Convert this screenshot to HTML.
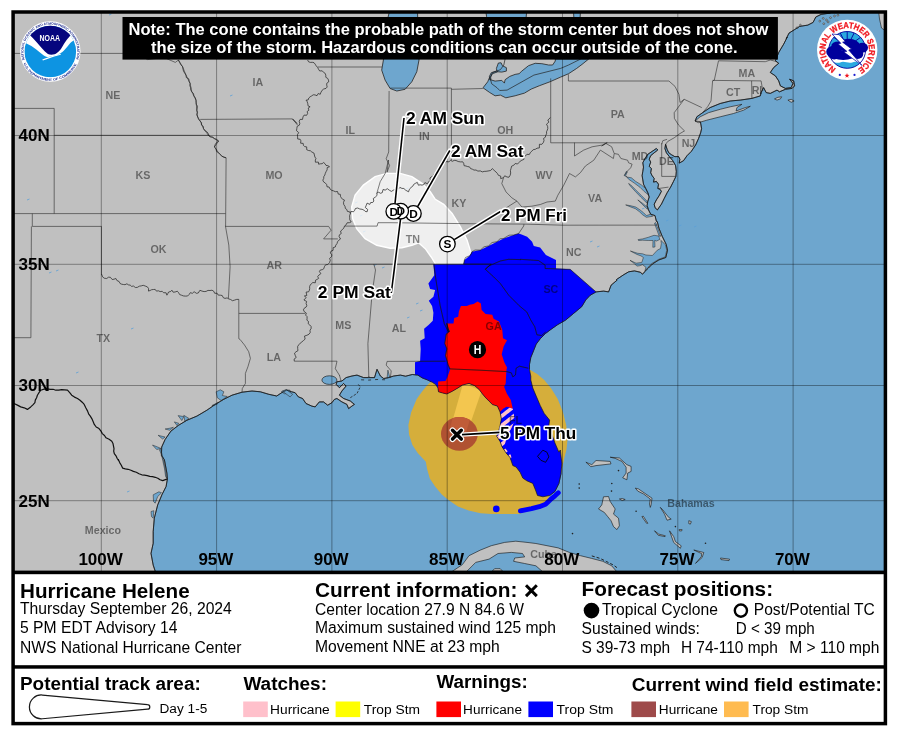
<!DOCTYPE html><html><head><meta charset="utf-8"><title>Hurricane Helene</title>
<style>html,body{margin:0;padding:0;background:#fff}body{width:897px;height:736px;overflow:hidden;font-family:"Liberation Sans",sans-serif}svg{display:block}text{font-family:"Liberation Sans",sans-serif}</style></head><body>
<svg width="897" height="736" viewBox="0 0 897 736">
<rect width="897" height="736" fill="#fff"/>
<filter id="nf" x="0" y="0" width="897" height="736" filterUnits="userSpaceOnUse" color-interpolation-filters="sRGB"><feOffset dx="0" dy="0"/></filter>
<defs>
<clipPath id="mapclip"><rect x="13" y="12" width="872" height="560"/></clipPath>
<clipPath id="landclip"><path d="M155.2 571.1 L153.2 565.1 L151.0 553.4 L153.2 543.3 L153.2 531.6 L154.3 518.2 L157.7 504.9 L161.9 494.8 L166.1 486.5 L167.4 478.9 L166.9 473.1 L164.4 459.7 L161.4 455.4 L161.7 447.0 L165.1 439.5 L170.9 431.1 L178.5 425.3 L186.8 420.3 L196.9 416.1 L206.9 410.2 L215.3 404.4 L223.6 399.4 L232.0 395.2 L242.0 392.2 L252.0 391.0 L260.4 391.8 L268.8 394.3 L276.7 396.0 L281.7 392.7 L286.7 390.2 L291.7 391.8 L295.1 392.7 L298.4 396.9 L302.6 398.5 L306.0 403.5 L311.8 406.1 L315.2 406.9 L319.3 401.9 L323.5 401.9 L327.7 405.2 L331.9 402.7 L334.4 399.4 L336.9 398.5 L341.9 401.9 L346.9 404.4 L348.6 408.6 L351.9 406.1 L354.4 404.4 L350.3 401.0 L343.6 398.5 L339.4 395.2 L341.9 391.0 L346.1 386.0 L343.6 383.5 L339.4 387.7 L336.1 384.3 L336.9 381.8 L341.9 381.0 L346.1 377.6 L351.9 376.0 L357.0 375.1 L363.6 377.6 L368.7 377.6 L374.5 377.6 L377.0 369.3 L380.4 376.0 L383.7 378.5 L388.7 377.6 L393.7 376.0 L400.4 375.1 L405.6 376.2 L412.3 374.5 L417.8 375.1 L422.3 377.9 L427.9 380.1 L432.3 382.3 L435.7 384.6 L437.9 387.9 L438.5 391.8 L442.4 392.9 L446.8 394.0 L452.4 391.2 L458.0 387.9 L462.4 385.1 L469.1 383.4 L474.7 385.7 L479.2 389.6 L482.5 394.0 L485.8 397.9 L489.2 401.3 L492.5 404.6 L497.4 406.1 L500.1 412.1 L501.4 418.8 L500.1 425.5 L498.7 430.8 L496.7 436.2 L500.1 441.5 L502.1 446.9 L506.1 452.9 L510.1 457.6 L512.8 465.6 L516.1 467.0 L520.1 472.3 L522.8 478.1 L526.8 480.8 L532.8 483.4 L535.5 490.1 L537.5 495.5 L542.9 496.8 L549.6 495.5 L554.9 491.5 L558.9 483.4 L560.9 474.1 L561.9 463.4 L560.3 450.0 L558.9 452.2 L554.9 442.9 L551.6 433.5 L548.9 425.5 L549.6 420.1 L544.2 413.4 L540.2 405.4 L536.2 396.1 L532.8 388.0 L530.8 380.0 L530.8 376.3 L529.5 369.6 L529.5 364.2 L530.8 357.5 L533.5 350.8 L536.2 344.1 L540.2 338.8 L545.6 333.4 L550.9 329.4 L557.6 324.7 L565.6 320.1 L573.6 313.4 L581.7 306.7 L585.7 300.0 L590.2 295.2 L596.1 291.9 L603.6 291.1 L608.6 291.9 L611.1 285.2 L617.0 280.2 L616.5 279.5 L623.9 274.6 L628.7 271.8 L634.4 270.9 L640.2 272.2 L642.6 274.2 L644.2 272.2 L648.3 268.1 L652.4 264.0 L658.9 259.9 L665.8 257.5 L667.5 250.2 L666.2 244.4 L662.2 236.3 L658.9 228.1 L657.3 221.6 L656.4 221.3 L655.0 215.6 L650.7 214.2 L648.5 209.9 L647.1 205.6 L647.8 201.3 L649.2 197.0 L647.8 192.8 L645.7 188.5 L643.5 184.2 L642.8 179.9 L642.1 175.6 L642.8 171.4 L643.5 167.1 L642.8 162.8 L645.0 158.5 L647.8 154.3 L652.1 151.4 L656.4 148.5 L657.8 150.0 L654.2 152.8 L650.7 155.7 L649.2 159.2 L650.7 162.1 L649.2 166.4 L651.4 168.5 L650.7 172.8 L652.1 175.6 L654.2 178.5 L653.5 182.1 L656.4 181.4 L658.5 184.2 L657.8 188.5 L659.9 189.2 L661.4 191.3 L659.2 195.6 L656.4 199.9 L654.2 204.2 L655.0 207.7 L657.4 209.9 L661.4 204.2 L664.2 198.5 L667.1 192.8 L670.6 187.1 L673.5 181.4 L675.9 176.4 L676.3 171.4 L675.6 165.7 L672.8 160.7 L669.2 156.4 L666.4 152.8 L664.9 148.5 L665.6 144.3 L667.1 149.3 L668.8 152.8 L671.6 154.8 L674.9 156.7 L678.5 156.5 L679.9 159.2 L679.2 163.1 L683.5 160.7 L687.0 155.7 L691.3 151.4 L695.6 145.0 L698.5 138.6 L700.6 132.9 L701.6 128.6 L700.4 121.7 L695.1 121.0 L696.8 116.8 L702.6 112.7 L710.1 107.6 L720.2 103.5 L730.2 101.0 L740.2 100.1 L751.9 98.4 L760.3 95.9 L761.1 92.6 L763.6 87.6 L766.2 92.6 L770.3 93.4 L777.0 90.1 L779.5 91.8 L785.4 89.3 L792.1 88.4 L794.6 85.9 L793.7 80.9 L789.6 79.2 L792.9 83.4 L791.2 87.6 L785.4 88.4 L780.4 85.9 L778.7 80.9 L775.4 75.9 L770.3 72.5 L773.7 67.5 L778.7 63.3 L775.4 60.8 L778.7 52.5 L783.7 44.1 L787.1 37.4 L786.4 38.4 L789.0 33.1 L794.4 29.7 L799.7 26.4 L807.8 25.1 L813.1 22.4 L815.8 17.0 L821.1 14.4 L830.5 13.0 L830.5 10.4 L12.0 8.0 L12.0 575.0 L155.2 575.0Z M695.1 121.0 L700.1 116.8 L708.5 112.7 L720.2 109.3 L730.2 106.8 L738.6 105.1 L741.9 104.3 L736.9 107.6 L736.1 111.0 L745.3 107.6 L750.3 106.3 L743.6 110.2 L733.5 113.5 L720.2 116.8 L706.8 120.2 L698.4 122.7Z M774.5 98.9 L777.9 97.3 L781.7 96.8 L780.4 98.9 L777.0 100.1Z M787.9 100.1 L791.2 99.3 L794.1 101.0 L791.2 102.3Z M878.5 10.0 L890.0 10.0 L890.0 34.0 L881.5 28.0 L879.5 19.0Z M448.9 573.6 L462.3 564.7 L469.0 555.7 L480.1 550.2 L491.3 545.7 L504.7 542.4 L515.8 541.2 L527.0 542.4 L535.9 543.5 L547.0 545.7 L558.2 547.9 L569.3 552.4 L580.5 555.7 L591.6 558.4 L602.8 561.3 L611.7 565.8 L618.4 573.6 L544.8 573.6 L535.9 565.8 L524.7 563.5 L513.6 561.3 L514.7 558.0 L524.7 556.9 L522.5 553.5 L511.3 552.4 L498.0 553.5 L489.1 559.1 L475.7 562.4 L471.2 566.9 L464.5 573.6Z M492.4 570.9 L494.6 568.7 L500.2 568.7 L502.4 570.9Z M585.9 462.2 L591.8 464.7 L596.0 460.5 L610.2 461.4 L611.0 463.9 L596.0 465.6 L590.9 466.7Z M610.2 457.2 L619.4 458.0 L626.9 464.7 L631.1 466.4 L631.1 471.4 L627.7 473.1 L626.9 479.8 L622.7 477.8 L626.1 473.1 L626.1 467.2 L621.9 461.4 L615.2 458.4Z M603.5 496.8 L608.5 496.5 L610.2 501.5 L615.2 509.0 L613.5 514.1 L618.5 518.2 L619.4 525.8 L616.9 529.6 L613.5 526.6 L611.0 520.7 L607.7 516.6 L604.3 512.4 L598.5 509.0 L601.8 504.9Z M635.3 488.1 L638.6 489.0 L647.0 494.8 L652.0 498.2 L651.1 504.9 L650.3 507.4 L649.5 504.0 L650.3 499.0 L643.6 494.0 L637.8 491.1Z M660.3 507.4 L662.8 509.9 L668.7 517.4 L671.2 519.1 L667.0 520.2 L664.5 514.1Z M669.5 530.8 L673.7 536.6 L675.4 541.6 L681.2 545.8 L680.4 548.3 L673.7 542.5Z M654.5 530.8 L658.7 534.1 L665.4 535.8 L665.0 536.6 L658.3 535.3Z M619.4 499.0 L622.2 498.5 L625.2 499.5 L622.2 500.5Z M693.8 550.0 L703.8 552.5 L702.1 557.5 L695.5 563.4 L701.3 556.7 L701.8 553.7Z M688.8 520.7 L691.3 521.6 L690.4 524.1 L688.8 523.6Z M679.1 529.6 L682.1 529.6 L681.7 530.9 L679.4 530.9Z M641.9 516.6 L643.3 516.2 L647.8 523.3 L646.6 523.3Z M720.5 558.0 L729.6 559.2 L729.0 560.6 L721.0 559.6Z"/></clipPath>
<clipPath id="warnclip"><path d="M415.0 380.0 L415.0 362.2 L420.1 360.9 L420.7 348.9 L420.1 340.8 L424.7 338.2 L424.1 328.8 L428.8 324.8 L432.8 320.8 L433.4 312.7 L432.1 306.1 L428.8 300.7 L433.4 296.7 L435.1 290.0 L430.1 289.0 L428.4 283.5 L434.3 275.2 L433.4 264.3 L463.5 264.3 L464.4 260.1 L469.4 255.9 L471.9 251.8 L480.3 250.1 L488.6 245.9 L497.0 241.7 L503.7 238.4 L513.7 235.0 L518.7 233.4 L527.1 236.7 L532.1 241.7 L533.8 245.9 L540.1 247.6 L545.9 255.1 L556.0 260.1 L556.0 268.5 L570.2 269.3 L596.1 291.9 L604.0 294.0 L580.0 335.0 L552.0 365.0 L552.0 400.0 L578.0 440.0 L578.0 480.0 L566.0 500.0 L540.0 506.0 L516.0 490.0 L498.0 470.0 L488.0 440.0 L488.0 415.0 L470.0 405.0 L440.0 402.0 L415.0 388.0Z M477.6 301.4 L480.9 303.4 L481.6 310.1 L485.6 314.1 L492.3 314.7 L493.6 318.8 L499.0 321.4 L502.3 330.1 L503.0 338.2 L507.0 340.2 L503.7 346.2 L501.7 354.2 L504.3 362.2 L507.0 367.6 L506.4 370.3 L505.7 383.6 L504.1 386.7 L506.8 393.4 L510.8 400.1 L512.8 408.8 L506.8 406.8 L503.4 408.8 L500.1 412.1 L494.0 417.0 L478.0 404.0 L463.0 394.0 L450.0 402.0 L440.0 400.0 L434.0 392.0 L438.1 388.1 L438.1 381.6 L445.5 381.0 L447.5 377.0 L450.2 368.9 L448.2 364.9 L445.5 355.6 L446.8 348.9 L444.8 343.5 L446.2 334.1 L449.5 331.5 L448.2 328.8 L446.8 323.4 L453.5 323.4 L454.2 318.1 L458.2 316.8 L458.9 311.4 L460.9 306.1 L466.9 306.1 L469.6 304.7 L473.6 304.0Z"/></clipPath>
<pattern id="hat" width="7.4" height="7.4" patternUnits="userSpaceOnUse" patternTransform="rotate(-38) translate(0 5.9)"><rect width="7.4" height="7.4" fill="#0000ff"/><rect width="7.4" height="3.7" fill="#ffc0cb"/></pattern>
</defs>
<g filter="url(#nf)">
<g clip-path="url(#mapclip)">
<rect x="10" y="10" width="880" height="565" fill="#6ea6ce"/>
<path d="M155.2 571.1 L153.2 565.1 L151.0 553.4 L153.2 543.3 L153.2 531.6 L154.3 518.2 L157.7 504.9 L161.9 494.8 L166.1 486.5 L167.4 478.9 L166.9 473.1 L164.4 459.7 L161.4 455.4 L161.7 447.0 L165.1 439.5 L170.9 431.1 L178.5 425.3 L186.8 420.3 L196.9 416.1 L206.9 410.2 L215.3 404.4 L223.6 399.4 L232.0 395.2 L242.0 392.2 L252.0 391.0 L260.4 391.8 L268.8 394.3 L276.7 396.0 L281.7 392.7 L286.7 390.2 L291.7 391.8 L295.1 392.7 L298.4 396.9 L302.6 398.5 L306.0 403.5 L311.8 406.1 L315.2 406.9 L319.3 401.9 L323.5 401.9 L327.7 405.2 L331.9 402.7 L334.4 399.4 L336.9 398.5 L341.9 401.9 L346.9 404.4 L348.6 408.6 L351.9 406.1 L354.4 404.4 L350.3 401.0 L343.6 398.5 L339.4 395.2 L341.9 391.0 L346.1 386.0 L343.6 383.5 L339.4 387.7 L336.1 384.3 L336.9 381.8 L341.9 381.0 L346.1 377.6 L351.9 376.0 L357.0 375.1 L363.6 377.6 L368.7 377.6 L374.5 377.6 L377.0 369.3 L380.4 376.0 L383.7 378.5 L388.7 377.6 L393.7 376.0 L400.4 375.1 L405.6 376.2 L412.3 374.5 L417.8 375.1 L422.3 377.9 L427.9 380.1 L432.3 382.3 L435.7 384.6 L437.9 387.9 L438.5 391.8 L442.4 392.9 L446.8 394.0 L452.4 391.2 L458.0 387.9 L462.4 385.1 L469.1 383.4 L474.7 385.7 L479.2 389.6 L482.5 394.0 L485.8 397.9 L489.2 401.3 L492.5 404.6 L497.4 406.1 L500.1 412.1 L501.4 418.8 L500.1 425.5 L498.7 430.8 L496.7 436.2 L500.1 441.5 L502.1 446.9 L506.1 452.9 L510.1 457.6 L512.8 465.6 L516.1 467.0 L520.1 472.3 L522.8 478.1 L526.8 480.8 L532.8 483.4 L535.5 490.1 L537.5 495.5 L542.9 496.8 L549.6 495.5 L554.9 491.5 L558.9 483.4 L560.9 474.1 L561.9 463.4 L560.3 450.0 L558.9 452.2 L554.9 442.9 L551.6 433.5 L548.9 425.5 L549.6 420.1 L544.2 413.4 L540.2 405.4 L536.2 396.1 L532.8 388.0 L530.8 380.0 L530.8 376.3 L529.5 369.6 L529.5 364.2 L530.8 357.5 L533.5 350.8 L536.2 344.1 L540.2 338.8 L545.6 333.4 L550.9 329.4 L557.6 324.7 L565.6 320.1 L573.6 313.4 L581.7 306.7 L585.7 300.0 L590.2 295.2 L596.1 291.9 L603.6 291.1 L608.6 291.9 L611.1 285.2 L617.0 280.2 L616.5 279.5 L623.9 274.6 L628.7 271.8 L634.4 270.9 L640.2 272.2 L642.6 274.2 L644.2 272.2 L648.3 268.1 L652.4 264.0 L658.9 259.9 L665.8 257.5 L667.5 250.2 L666.2 244.4 L662.2 236.3 L658.9 228.1 L657.3 221.6 L656.4 221.3 L655.0 215.6 L650.7 214.2 L648.5 209.9 L647.1 205.6 L647.8 201.3 L649.2 197.0 L647.8 192.8 L645.7 188.5 L643.5 184.2 L642.8 179.9 L642.1 175.6 L642.8 171.4 L643.5 167.1 L642.8 162.8 L645.0 158.5 L647.8 154.3 L652.1 151.4 L656.4 148.5 L657.8 150.0 L654.2 152.8 L650.7 155.7 L649.2 159.2 L650.7 162.1 L649.2 166.4 L651.4 168.5 L650.7 172.8 L652.1 175.6 L654.2 178.5 L653.5 182.1 L656.4 181.4 L658.5 184.2 L657.8 188.5 L659.9 189.2 L661.4 191.3 L659.2 195.6 L656.4 199.9 L654.2 204.2 L655.0 207.7 L657.4 209.9 L661.4 204.2 L664.2 198.5 L667.1 192.8 L670.6 187.1 L673.5 181.4 L675.9 176.4 L676.3 171.4 L675.6 165.7 L672.8 160.7 L669.2 156.4 L666.4 152.8 L664.9 148.5 L665.6 144.3 L667.1 149.3 L668.8 152.8 L671.6 154.8 L674.9 156.7 L678.5 156.5 L679.9 159.2 L679.2 163.1 L683.5 160.7 L687.0 155.7 L691.3 151.4 L695.6 145.0 L698.5 138.6 L700.6 132.9 L701.6 128.6 L700.4 121.7 L695.1 121.0 L696.8 116.8 L702.6 112.7 L710.1 107.6 L720.2 103.5 L730.2 101.0 L740.2 100.1 L751.9 98.4 L760.3 95.9 L761.1 92.6 L763.6 87.6 L766.2 92.6 L770.3 93.4 L777.0 90.1 L779.5 91.8 L785.4 89.3 L792.1 88.4 L794.6 85.9 L793.7 80.9 L789.6 79.2 L792.9 83.4 L791.2 87.6 L785.4 88.4 L780.4 85.9 L778.7 80.9 L775.4 75.9 L770.3 72.5 L773.7 67.5 L778.7 63.3 L775.4 60.8 L778.7 52.5 L783.7 44.1 L787.1 37.4 L786.4 38.4 L789.0 33.1 L794.4 29.7 L799.7 26.4 L807.8 25.1 L813.1 22.4 L815.8 17.0 L821.1 14.4 L830.5 13.0 L830.5 10.4 L12.0 8.0 L12.0 575.0 L155.2 575.0Z" fill="#c0c0c0" stroke="#111" stroke-width="0.6" stroke-linejoin="round"/>
<path d="M695.1 121.0 L700.1 116.8 L708.5 112.7 L720.2 109.3 L730.2 106.8 L738.6 105.1 L741.9 104.3 L736.9 107.6 L736.1 111.0 L745.3 107.6 L750.3 106.3 L743.6 110.2 L733.5 113.5 L720.2 116.8 L706.8 120.2 L698.4 122.7Z" fill="#c0c0c0" stroke="#111" stroke-width="0.6" stroke-linejoin="round"/>
<path d="M774.5 98.9 L777.9 97.3 L781.7 96.8 L780.4 98.9 L777.0 100.1Z" fill="#c0c0c0" stroke="#111" stroke-width="0.6" stroke-linejoin="round"/>
<path d="M787.9 100.1 L791.2 99.3 L794.1 101.0 L791.2 102.3Z" fill="#c0c0c0" stroke="#111" stroke-width="0.6" stroke-linejoin="round"/>
<path d="M878.5 10.0 L890.0 10.0 L890.0 34.0 L881.5 28.0 L879.5 19.0Z" fill="#c0c0c0" stroke="#111" stroke-width="0.6" stroke-linejoin="round"/>
<path d="M448.9 573.6 L462.3 564.7 L469.0 555.7 L480.1 550.2 L491.3 545.7 L504.7 542.4 L515.8 541.2 L527.0 542.4 L535.9 543.5 L547.0 545.7 L558.2 547.9 L569.3 552.4 L580.5 555.7 L591.6 558.4 L602.8 561.3 L611.7 565.8 L618.4 573.6 L544.8 573.6 L535.9 565.8 L524.7 563.5 L513.6 561.3 L514.7 558.0 L524.7 556.9 L522.5 553.5 L511.3 552.4 L498.0 553.5 L489.1 559.1 L475.7 562.4 L471.2 566.9 L464.5 573.6Z" fill="#c0c0c0" stroke="#111" stroke-width="0.6" stroke-linejoin="round"/>
<path d="M492.4 570.9 L494.6 568.7 L500.2 568.7 L502.4 570.9Z" fill="#c0c0c0" stroke="#111" stroke-width="0.6" stroke-linejoin="round"/>
<path d="M585.9 462.2 L591.8 464.7 L596.0 460.5 L610.2 461.4 L611.0 463.9 L596.0 465.6 L590.9 466.7Z" fill="#c0c0c0" stroke="#111" stroke-width="0.6" stroke-linejoin="round"/>
<path d="M610.2 457.2 L619.4 458.0 L626.9 464.7 L631.1 466.4 L631.1 471.4 L627.7 473.1 L626.9 479.8 L622.7 477.8 L626.1 473.1 L626.1 467.2 L621.9 461.4 L615.2 458.4Z" fill="#c0c0c0" stroke="#111" stroke-width="0.6" stroke-linejoin="round"/>
<path d="M603.5 496.8 L608.5 496.5 L610.2 501.5 L615.2 509.0 L613.5 514.1 L618.5 518.2 L619.4 525.8 L616.9 529.6 L613.5 526.6 L611.0 520.7 L607.7 516.6 L604.3 512.4 L598.5 509.0 L601.8 504.9Z" fill="#c0c0c0" stroke="#111" stroke-width="0.6" stroke-linejoin="round"/>
<path d="M635.3 488.1 L638.6 489.0 L647.0 494.8 L652.0 498.2 L651.1 504.9 L650.3 507.4 L649.5 504.0 L650.3 499.0 L643.6 494.0 L637.8 491.1Z" fill="#c0c0c0" stroke="#111" stroke-width="0.6" stroke-linejoin="round"/>
<path d="M660.3 507.4 L662.8 509.9 L668.7 517.4 L671.2 519.1 L667.0 520.2 L664.5 514.1Z" fill="#c0c0c0" stroke="#111" stroke-width="0.6" stroke-linejoin="round"/>
<path d="M669.5 530.8 L673.7 536.6 L675.4 541.6 L681.2 545.8 L680.4 548.3 L673.7 542.5Z" fill="#c0c0c0" stroke="#111" stroke-width="0.6" stroke-linejoin="round"/>
<path d="M654.5 530.8 L658.7 534.1 L665.4 535.8 L665.0 536.6 L658.3 535.3Z" fill="#c0c0c0" stroke="#111" stroke-width="0.6" stroke-linejoin="round"/>
<path d="M619.4 499.0 L622.2 498.5 L625.2 499.5 L622.2 500.5Z" fill="#c0c0c0" stroke="#111" stroke-width="0.6" stroke-linejoin="round"/>
<path d="M693.8 550.0 L703.8 552.5 L702.1 557.5 L695.5 563.4 L701.3 556.7 L701.8 553.7Z" fill="#c0c0c0" stroke="#111" stroke-width="0.6" stroke-linejoin="round"/>
<path d="M688.8 520.7 L691.3 521.6 L690.4 524.1 L688.8 523.6Z" fill="#c0c0c0" stroke="#111" stroke-width="0.6" stroke-linejoin="round"/>
<path d="M679.1 529.6 L682.1 529.6 L681.7 530.9 L679.4 530.9Z" fill="#c0c0c0" stroke="#111" stroke-width="0.6" stroke-linejoin="round"/>
<path d="M641.9 516.6 L643.3 516.2 L647.8 523.3 L646.6 523.3Z" fill="#c0c0c0" stroke="#111" stroke-width="0.6" stroke-linejoin="round"/>
<path d="M720.5 558.0 L729.6 559.2 L729.0 560.6 L721.0 559.6Z" fill="#c0c0c0" stroke="#111" stroke-width="0.6" stroke-linejoin="round"/>
<circle cx="579.2" cy="484.0" r="0.8" fill="#222"/>
<circle cx="579.2" cy="488.1" r="0.8" fill="#222"/>
<circle cx="611.8" cy="483.5" r="0.8" fill="#222"/>
<circle cx="611.5" cy="491.1" r="0.8" fill="#222"/>
<circle cx="618.5" cy="470.6" r="0.8" fill="#222"/>
<circle cx="636.1" cy="511.2" r="0.8" fill="#222"/>
<circle cx="572.5" cy="533.6" r="0.8" fill="#222"/>
<circle cx="675.4" cy="526.6" r="0.8" fill="#222"/>
<circle cx="705.5" cy="543.3" r="0.8" fill="#222"/>
<path d="M591.8 555.9 L600.1 558.4 L606.8 561.7 L613.5 565.1 L616.9 567.6" fill="none" stroke="#222" stroke-width="1" stroke-dasharray="3 2"/>
<circle cx="819.8" cy="21.1" r="0.9" fill="#c0c0c0" stroke="#222" stroke-width="0.5"/>
<circle cx="823.2" cy="18.4" r="0.9" fill="#c0c0c0" stroke="#222" stroke-width="0.5"/>
<circle cx="826.5" cy="20.0" r="0.9" fill="#c0c0c0" stroke="#222" stroke-width="0.5"/>
<circle cx="830.5" cy="17.7" r="0.9" fill="#c0c0c0" stroke="#222" stroke-width="0.5"/>
<circle cx="834.5" cy="16.0" r="0.9" fill="#c0c0c0" stroke="#222" stroke-width="0.5"/>
<circle cx="837.9" cy="15.2" r="0.9" fill="#c0c0c0" stroke="#222" stroke-width="0.5"/>
<circle cx="823.8" cy="23.7" r="0.9" fill="#c0c0c0" stroke="#222" stroke-width="0.5"/>
<circle cx="828.1" cy="21.9" r="0.9" fill="#c0c0c0" stroke="#222" stroke-width="0.5"/>
<circle cx="797.1" cy="27.7" r="0.9" fill="#c0c0c0" stroke="#222" stroke-width="0.5"/>
<circle cx="800.4" cy="25.1" r="0.9" fill="#c0c0c0" stroke="#222" stroke-width="0.5"/>
<path d="M127.0 492.0l2.5 -1 M131.0 329.0l2.5 -1 M76.0 373.0l2.5 -1 M374.0 265.5l2.5 -1 M382.0 268.0l2.5 -1 M49.0 273.0l2.5 -1 M56.0 271.0l2.5 -1 M642.0 209.0l2.5 -1 M666.0 221.0l2.5 -1 M679.0 226.0l2.5 -1 M694.0 227.0l2.5 -1 M590.0 242.0l2.5 -1 M597.0 247.0l2.5 -1 M355.0 203.0l2.5 -1 M360.0 216.0l2.5 -1 M363.0 232.0l2.5 -1 M406.0 189.0l2.5 -1 M520.0 251.0l2.5 -1 M416.0 304.0l2.5 -1 M420.0 311.0l2.5 -1 M407.0 318.0l2.5 -1 M230.0 96.0l2.5 -1 M109.0 15.0l2.5 -1 M27.0 200.0l2.5 -1" fill="none" stroke="#5aa0d8" stroke-width="0.8"/>
<path d="M383.4 60.0 L381.7 70.1 L385.1 80.1 L390.1 88.5 L396.8 91.0 L405.1 89.3 L411.8 81.8 L416.8 71.7 L419.0 60.0 L417.4 8.2 L390.2 8.2 L385.0 30.0Z" fill="#6ea6ce" stroke="#222" stroke-width="0.8"/>
<path d="M483.0 87.8 L489.7 92.5 L495.1 95.8 L500.4 95.1 L505.8 97.8 L515.1 95.8 L524.5 93.1 L531.2 89.1 L539.2 85.8 L549.9 81.8 L560.6 77.1 L568.6 73.7 L576.7 68.4 L582.0 64.4 L588.7 59.0 L555.3 59.0 L555.3 61.0 L552.6 65.0 L548.6 65.0 L541.9 63.7 L535.2 63.3 L528.5 65.7 L521.8 71.1 L519.1 73.7 L515.1 74.4 L509.8 76.4 L505.1 79.7 L504.4 83.1 L501.8 80.4 L495.1 81.1 L490.4 79.7 L490.0 76.4 L487.7 81.8Z" fill="#6ea6ce" stroke="#222" stroke-width="0.8"/>
<path d="M496.4 68.4 L498.4 63.0 L501.1 62.8 L502.4 65.7 L506.4 67.7 L506.4 71.1 L501.8 72.1 L497.1 71.7Z" fill="#6ea6ce" stroke="#222" stroke-width="0.8"/>
<path d="M497.1 70.8 L497.5 71.9 L492.4 73.7 L490.7 77.1 L490.9 79.9 L489.6 79.6 L489.4 76.4 L491.3 72.7Z" fill="#6ea6ce" stroke="#222" stroke-width="0.8"/>
<path d="M485.4 8.2 L486.6 16.7 L507.4 53.4 L523.5 45.0 L527.0 8.2Z" fill="#6ea6ce" stroke="#222" stroke-width="0.8"/>
<path d="M573.4 10.0 L580.5 10.0 L580.0 20.0 L574.0 20.0Z" fill="#6ea6ce" stroke="#222" stroke-width="0.8"/>
<path d="M567.3 45.0 L583.5 46.4 L620.4 46.4 L650.3 38.0 L648.0 22.4 L631.9 28.1 L608.8 26.7 L578.8 35.2Z" fill="#6ea6ce" stroke="#222" stroke-width="0.8"/>
<path d="M638.1 239.6 L642.6 238.9 L648.3 237.3 L654.0 235.3 L658.7 236.0 L659.9 239.4 L656.6 241.0 L654.7 240.4 L655.0 246.9 L652.8 247.3 L653.0 240.5 L648.3 240.5 L642.6 240.2 L638.5 240.5Z" fill="#6ea6ce" stroke="#222" stroke-width="0.5"/>
<path d="M660.9 240.4 L665.6 244.9 L666.7 250.2 L665.3 256.8 L658.7 259.3 L652.0 263.4 L647.9 267.4 L644.9 271.2 L645.9 267.3 L642.6 264.7 L639.3 265.8 L636.9 266.1 L634.4 263.6 L630.0 260.3 L636.1 263.2 L641.8 262.4 L643.4 257.5 L641.0 255.9 L636.9 254.4 L630.4 251.0 L637.7 253.3 L642.6 253.8 L645.9 255.0 L652.4 255.5 L657.3 250.2 L660.5 248.5 L661.3 243.6Z" fill="#6ea6ce" stroke="#222" stroke-width="0.5"/>
<path d="M655.6 222.4 L658.1 229.0 L660.7 236.3 L659.1 236.0 L656.6 229.1 L654.5 223.3Z" fill="#6ea6ce" stroke="#222" stroke-width="0.5"/>
<path d="M647.8 192.8 L645.7 188.5 L641.4 184.9 L635.7 181.4 L631.4 177.8 L627.1 177.1 L624.3 175.6 L626.4 171.4 L627.4 171.8 L625.7 175.4 L628.6 179.2 L634.3 183.1 L640.0 187.3 L644.3 191.6 L648.5 194.9Z" fill="#6ea6ce" stroke="#222" stroke-width="0.5"/>
<path d="M650.7 214.2 L646.4 215.6 L643.5 212.7 L640.0 209.9 L635.7 207.0 L630.0 205.6 L625.7 204.9 L630.0 206.7 L635.4 208.7 L639.3 211.6 L642.8 214.9 L646.4 217.3 L652.8 216.3Z" fill="#6ea6ce" stroke="#222" stroke-width="0.5"/>
<path d="M647.1 201.3 L641.4 195.6 L635.7 189.9 L630.7 184.9 L628.6 183.5 L630.3 185.9 L635.0 191.1 L640.7 197.0 L646.8 203.0Z" fill="#6ea6ce" stroke="#222" stroke-width="0.5"/>
<path d="M647.8 207.7 L642.8 203.5 L637.8 199.9 L642.1 204.2 L647.4 209.2Z" fill="#6ea6ce" stroke="#222" stroke-width="0.5"/>
<path d="M216.1 391.8 L220.3 389.8 L223.9 391.8 L222.3 395.5 L227.3 396.5 L221.1 400.5 L217.3 397.7Z" fill="#6ea6ce" stroke="#222" stroke-width="0.5"/>
<path d="M178.1 415.6 L181.8 420.6 L183.8 416.6Z" fill="#6ea6ce" stroke="#222" stroke-width="0.5"/>
<path d="M183.8 415.3 L188.8 418.3 L184.8 421.3Z" fill="#6ea6ce" stroke="#222" stroke-width="0.5"/>
<path d="M174.3 421.9 L177.1 425.6 L178.8 423.3Z" fill="#6ea6ce" stroke="#222" stroke-width="0.5"/>
<path d="M165.1 429.0 L169.8 430.3 L173.4 427.3 L169.3 428.3Z" fill="#6ea6ce" stroke="#222" stroke-width="0.5"/>
<path d="M158.1 435.3 L165.1 437.0 L162.6 439.0Z" fill="#6ea6ce" stroke="#222" stroke-width="0.5"/>
<path d="M152.5 445.0 L156.7 449.5 L160.9 448.4 L157.6 447.0Z" fill="#6ea6ce" stroke="#222" stroke-width="0.5"/>
<path d="M211.9 405.6 L218.6 402.2 L217.3 404.2Z" fill="#6ea6ce" stroke="#222" stroke-width="0.5"/>
<path d="M281.3 391.8 L285.5 389.8 L290.0 390.2 L290.0 393.2 L284.6 393.8Z" fill="#6ea6ce" stroke="#222" stroke-width="0.5"/>
<path d="M282.5 391.0 L286.7 389.8 L292.6 394.3 L290.1 396.9 L285.9 393.8Z" fill="#6ea6ce" stroke="#222" stroke-width="0.5"/>
<path d="M387.1 377.8 L387.9 370.1 L389.7 377.1Z" fill="#6ea6ce" stroke="#222" stroke-width="0.5"/>
<path d="M153.2 494.8 L158.9 491.8 L161.5 492.8 L157.7 496.5 L155.2 503.2 L153.5 501.5Z" fill="#6ea6ce" stroke="#222" stroke-width="0.5"/>
<path d="M151.0 511.5 L153.8 510.7 L153.2 518.2 L151.5 516.6Z" fill="#6ea6ce" stroke="#222" stroke-width="0.5"/>
<path d="M159.4 449.7 L161.5 454.7 L164.4 468.1 L165.6 476.4 L166.6 478.1 L165.2 468.1 L162.2 454.7 L160.5 448.8Z" fill="#6ea6ce" stroke="#222" stroke-width="0.5"/>
<path d="M350.3 397.7 L357.0 393.5 L360.3 386.8 L357.8 383.8" fill="none" stroke="#222" stroke-width="0.8" stroke-dasharray="2.5 1.5"/>
<path d="M361.1 379.8 L368.7 380.1 L377.0 379.5 L385.4 379.8" fill="none" stroke="#222" stroke-width="0.8" stroke-dasharray="3 4"/>
<ellipse cx="329.4" cy="380.1" rx="7.5" ry="4.3" fill="#6ea6ce" stroke="#222" stroke-width="0.7"/>
<path d="M10.7 402.7 L14.0 403.5 L17.4 405.1 L20.7 406.9 L24.2 407.8 L27.4 409.4 L30.7 406.9 L32.9 404.9 L34.9 402.7 L35.3 400.1 L36.6 397.7 L37.4 395.2 L39.0 392.6 L40.8 390.2 L44.0 389.1 L47.4 388.8 L50.2 389.3 L53.1 389.3 L55.8 390.2 L58.7 390.1 L61.7 389.7 L64.6 389.8 L67.5 390.2 L69.7 392.6 L71.7 395.2 L74.5 397.1 L77.5 398.5 L80.0 400.2 L82.2 402.2 L84.2 404.4 L85.8 407.8 L87.6 411.1 L88.6 413.8 L90.3 416.1 L91.8 418.6 L93.1 421.5 L94.3 424.4 L96.2 427.0 L99.0 428.6 L101.0 431.1 L102.3 433.6 L104.5 435.5 L106.0 437.8 L109.1 439.2 L111.8 441.2 L113.0 443.6 L113.5 446.2 L114.0 448.7 L113.7 451.2 L114.3 453.7 L116.0 455.8 L117.1 458.2 L118.5 460.4 L118.4 459.7 L119.7 462.6 L121.3 465.2 L122.6 468.1 L125.3 468.9 L128.1 469.3 L130.9 470.2 L133.4 471.4 L136.3 472.3 L139.0 473.8 L141.8 474.8 L144.5 475.2 L147.2 475.6 L149.8 476.3 L152.5 476.7 L155.2 477.3 L157.8 478.2 L160.1 479.8 L162.7 480.6 L167.4 478.9" fill="none" stroke="#111" stroke-width="1.2" stroke-linejoin="round"/>
<path d="M505.1 59.0 L503.8 65.0 L500.4 69.7 L492.4 72.7 L490.0 77.7 L491.7 83.8 L497.1 87.8 L499.7 90.5 L507.1 90.1 L533.9 75.1 L560.6 68.4 L568.6 65.0 L580.7 59.0" fill="none" stroke="#222" stroke-width="0.7"/>
<path d="M470.5 251.1 L467.1 240.3 L460.4 226.9 L452.1 213.5 L443.7 204.3 L435.3 199.3 L430.3 191.8 L422.0 183.4 L411.9 176.7 L400.2 173.4 L386.8 173.4 L375.1 176.7 L363.4 185.1 L355.1 195.1 L351.7 206.8 L352.6 218.5 L356.7 228.6 L365.1 238.6 L376.8 245.3 L390.2 248.3 L401.9 247.8 L411.9 245.3 L418.6 242.8 L425.3 248.6 L431.2 257.0 L435.3 263.7 L440.0 280.0 L478.0 275.0Z" fill="#fff" fill-opacity="0.74" stroke="#fff" stroke-width="1.4"/>
<path d="M429.0 383.4 L426.8 385.7 L422.3 391.2 L416.7 399.0 L411.1 412.4 L408.4 425.0 L409.0 434.4 L412.4 445.1 L417.7 453.1 L425.8 461.8 L427.1 469.1 L429.8 478.5 L435.1 486.5 L441.8 494.6 L448.5 499.9 L457.9 506.6 L468.6 510.6 L480.6 513.3 L491.3 514.0 L519.0 514.0 L545.0 505.0 L561.2 472.7 L562.3 467.4 L564.3 458.0 L566.5 449.6 L567.6 438.9 L566.3 425.5 L562.9 412.1 L557.6 398.7 L550.9 388.0 L544.2 380.0 L537.5 374.2 L529.5 369.6 L480.0 350.0Z" fill="#d5ae3b"/>
<path d="M451.0 426.0 L463.2 383.0 L481.5 391.0 L469.5 426.0Z" fill="#f3c64f"/>
<ellipse cx="459.4" cy="433.9" rx="18.4" ry="16.9" fill="#b05232"/>
<clipPath id="brc"><ellipse cx="459.4" cy="433.9" rx="18.4" ry="16.9"/></clipPath>
<path d="M449 433 L453 416 L471 416 L465 436 Z" fill="#c05c38" clip-path="url(#brc)"/>
<g clip-path="url(#landclip)">
<path d="M415.0 380.0 L415.0 362.2 L420.1 360.9 L420.7 348.9 L420.1 340.8 L424.7 338.2 L424.1 328.8 L428.8 324.8 L432.8 320.8 L433.4 312.7 L432.1 306.1 L428.8 300.7 L433.4 296.7 L435.1 290.0 L430.1 289.0 L428.4 283.5 L434.3 275.2 L433.4 264.3 L463.5 264.3 L464.4 260.1 L469.4 255.9 L471.9 251.8 L480.3 250.1 L488.6 245.9 L497.0 241.7 L503.7 238.4 L513.7 235.0 L518.7 233.4 L527.1 236.7 L532.1 241.7 L533.8 245.9 L540.1 247.6 L545.9 255.1 L556.0 260.1 L556.0 268.5 L570.2 269.3 L596.1 291.9 L604.0 294.0 L580.0 335.0 L552.0 365.0 L552.0 400.0 L578.0 440.0 L578.0 480.0 L566.0 500.0 L540.0 506.0 L516.0 490.0 L498.0 470.0 L488.0 440.0 L488.0 415.0 L470.0 405.0 L440.0 402.0 L415.0 388.0Z" fill="#0000ff"/>
<path d="M477.6 301.4 L480.9 303.4 L481.6 310.1 L485.6 314.1 L492.3 314.7 L493.6 318.8 L499.0 321.4 L502.3 330.1 L503.0 338.2 L507.0 340.2 L503.7 346.2 L501.7 354.2 L504.3 362.2 L507.0 367.6 L506.4 370.3 L505.7 383.6 L504.1 386.7 L506.8 393.4 L510.8 400.1 L512.8 408.8 L506.8 406.8 L503.4 408.8 L500.1 412.1 L494.0 417.0 L478.0 404.0 L463.0 394.0 L450.0 402.0 L440.0 400.0 L434.0 392.0 L438.1 388.1 L438.1 381.6 L445.5 381.0 L447.5 377.0 L450.2 368.9 L448.2 364.9 L445.5 355.6 L446.8 348.9 L444.8 343.5 L446.2 334.1 L449.5 331.5 L448.2 328.8 L446.8 323.4 L453.5 323.4 L454.2 318.1 L458.2 316.8 L458.9 311.4 L460.9 306.1 L466.9 306.1 L469.6 304.7 L473.6 304.0Z" fill="#ff0000"/>
<path d="M500.1 412.1 L503.4 408.8 L506.8 406.8 L512.8 408.8 L514.8 420.1 L512.1 426.8 L506.8 437.5 L504.1 446.9 L510.8 454.9 L512.1 460.3 L500.0 460.0 L492.0 436.0 L494.0 420.0Z" fill="url(#hat)"/>
</g>
<path d="M558.3 492.8 L555.0 495.8 L550.3 499.7 L545.6 504.3 L539.3 506.7 L531.5 508.6 L525.3 509.8 L520.4 510.9" fill="none" stroke="#0000ff" stroke-width="4.8" stroke-linecap="round" stroke-linejoin="round"/>
<circle cx="496.3" cy="508.9" r="3.3" fill="#0000ff"/>
<path d="M11.6 108.4 L54.2 108.4 L54.2 213.6 M54.2 135.3 L209.7 135.3 M11.6 213.6 L225.6 213.6 M32.3 213.6 L32.3 226.4 L101.5 226.4 L101.5 275.1 M31.4 226.4 L30.9 337.7 L11.6 337.7 M11.6 53.4 L136.1 53.4 L147.6 59.6 L163.8 57.4 L175.3 62.4 L178.4 60.0 M178.4 60.0 L182.6 66.7 L186.0 75.1 L190.1 83.4 L191.8 91.8 L196.0 100.2 L196.8 110.2 L197.7 116.9 L200.2 121.1 L203.5 128.6 L208.5 135.3 L214.4 138.6 L218.6 141.1 L214.4 147.0 L218.6 152.8 L221.9 156.2 L226.1 157.8 L225.6 226.4 M200.2 119.4 L292.1 118.9 L297.2 123.6 L292.6 118.9 L297.6 125.2 M317.7 67.0 L382.0 67.0 M225.6 226.4 L328.6 226.4 L331.1 230.2 L323.6 238.9 L337.8 238.9 M225.4 225.8 L228.8 245.1 L230.1 266.8 L228.4 298.6 M238.8 299.4 L238.8 338.7 L240.0 339.4 L244.5 345.0 L248.7 351.7 L250.4 358.4 L247.9 366.8 L245.4 373.4 L245.4 383.5 L242.3 388.5 L242.0 392.2 M238.9 313.4 L305.1 313.4 M294.3 361.2 L337.0 361.2 L335.3 368.7 L339.5 375.4 L339.4 375.1 L341.1 381.0 M373.8 264.2 L375.5 270.0 L372.1 293.4 L367.9 343.6 L368.8 377.1 L369.0 376.0 M330.3 264.2 L491.2 264.1 M344.5 226.1 L377.1 226.1 L378.0 222.7 L390.0 222.7 L477.8 223.8 L524.0 224.1 L562.7 225.2 L657.2 225.1 M376.8 193.4 L380.2 181.7 L385.2 173.4 L388.5 160.0 L387.1 172.1 L389.6 165.4 L386.2 158.7 L388.7 152.0 L389.1 91.0 M390.1 88.1 L451.4 88.1 L451.4 150.3 L451.4 160.3 M451.4 89.3 L482.9 88.5 M503.5 177.7 L501.8 183.6 L506.0 191.9 L511.8 197.8 L516.9 201.1 L510.2 205.3 L500.1 212.0 L481.7 224.5 M516.9 201.1 L521.9 207.0 L531.9 206.2 L540.3 204.5 L547.0 202.0 L555.3 201.1 L557.8 195.3 L563.7 185.3 L569.5 173.5 L575.4 176.9 L580.4 172.7 L585.4 166.0 L593.8 160.2 L600.4 150.1 L613.4 158.5 L614.2 153.8 M574.5 142.6 L574.5 156.0 L583.7 150.1 L592.1 146.8 L602.1 145.1 L607.2 142.6 L601.7 146.0 L605.9 143.4 L611.7 146.8 L614.2 153.5 L618.4 154.3 L620.9 158.5 L627.6 160.2 L628.6 162.8 L632.1 164.2 L630.7 167.8 L627.1 171.4 L624.3 175.6 M550.7 78.4 L550.7 142.8 L659.8 142.8 M568.4 74.3 L568.4 81.0 L668.9 81.0 L675.0 86.4 L679.0 94.5 L680.0 102.5 L684.2 99.3 L674.2 112.7 L674.4 118.4 L678.6 125.1 L684.5 130.9 L679.9 133.6 L674.2 137.8 L667.8 141.4 L665.6 144.3 M661.7 144.3 L662.8 140.7 L667.1 139.3 M661.7 143.1 L661.7 176.4 L675.9 176.4 M658.5 188.5 L668.5 187.1 M684.2 99.3 L701.8 107.6 M702.6 112.7 L707.6 106.8 L711.0 101.0 L712.6 80.9 L714.3 80.1 L718.5 60.8 M712.6 80.4 L761.1 80.9 L762.8 90.9 M751.6 80.9 L751.9 98.4 M718.5 60.8 L765.3 61.7 L770.3 60.0 L777.0 61.7 M433.8 264.3 L436.0 280.2 L440.1 305.3 L444.3 323.7 L448.5 332.0 L446.8 323.4 L448.2 328.8 L449.5 331.5 L446.2 334.1 L444.8 343.5 L446.8 348.9 L445.5 355.6 L448.2 364.9 L449.8 368.9 M390.4 377.6 L391.2 370.9 L386.2 365.1 L387.1 361.4 L445.5 361.2 M449.8 368.9 L480.0 370.2 L506.8 371.6 L511.4 372.9 L512.8 376.9 L515.5 374.9 L516.1 368.2 L519.5 366.2 L528.2 368.2 M491.2 264.1 L485.3 269.3 L493.6 276.8 L500.3 283.5 L508.7 295.2 L517.1 303.6 L518.8 305.4 L526.8 312.0 L530.8 320.1 L534.8 326.8 L536.9 334.8 L541.5 335.5 L545.6 332.1 M485.3 269.3 L488.6 266.0 L500.3 261.0 L508.7 259.3 L520.4 259.6 L520.0 259.3 L538.4 260.5 L545.1 265.1 L545.1 268.5 L570.2 269.3 L596.1 291.9 M524.0 224.1 L523.7 226.0 L521.0 230.0 L518.7 233.4 L513.7 235.0 L509.0 235.2 L503.7 238.4 L500.0 238.8 L497.0 241.7 L492.0 242.5 L488.6 245.9 L484.0 246.8 L480.3 250.1 L475.0 250.0 L471.9 251.8 L471.0 254.5 L469.4 255.9 L465.5 257.5 L464.4 260.1 L463.5 264.3" fill="none" stroke="#2a2a2a" stroke-width="0.6" stroke-linejoin="round"/>
<path d="M307.6 60.0 L308.6 61.8 L310.3 62.4 L312.3 62.3 L314.0 62.7 L315.2 64.2 L316.2 65.9 L317.6 67.4 L318.5 69.2 L319.7 71.0 L322.2 70.8 L323.5 72.3 L325.2 73.4 L325.8 75.2 L325.8 77.3 L327.7 78.4 L328.5 80.1 L328.7 81.9 L326.8 83.2 L326.7 85.0 L327.2 87.0 L326.0 88.4 L323.7 89.0 L322.1 90.3 L321.0 92.2 L320.2 94.3 L318.2 93.5 L317.0 95.7 L315.0 94.9 L313.2 94.8 L311.7 95.9 L310.1 96.8 L308.8 98.0 L308.1 100.0 L306.0 100.2 L307.2 101.7 L307.8 103.7 L308.0 105.8 L310.1 106.8 L308.2 108.0 L308.9 110.2 L307.2 111.5 L307.6 113.5 L306.6 115.3 L304.1 115.1 L303.0 116.9 L302.5 119.4 L300.1 119.4 L299.2 121.2 L299.8 123.3 L299.3 125.2 L297.2 126.3 L296.8 128.6 L296.5 130.7 L298.7 132.6 L297.4 134.8 L297.6 136.9 L297.7 139.0 L300.2 139.3 L300.9 140.8 L300.6 143.2 L303.2 143.4 L303.4 145.3 L304.7 146.6 L306.7 146.9 L306.7 149.7 L308.5 150.5 L310.5 150.8 L311.8 152.0 L313.9 153.0 L314.4 155.0 L314.9 157.0 L316.0 158.7 L315.3 160.0 L315.4 162.2 L318.4 162.1 L318.6 164.2 L320.3 163.8 L322.1 163.7 L323.6 162.5 L325.0 163.7 L326.0 165.4 L327.9 165.7 L329.5 166.7 L327.2 167.6 L327.1 169.9 L326.1 171.6 L325.3 173.4 L324.8 175.1 L323.8 176.6 L323.7 178.5 L322.8 180.1 L323.6 181.9 L325.4 183.1 L326.7 184.6 L327.0 186.8 L329.1 187.0 L330.1 189.1 L331.7 190.3 L333.6 190.9 L335.3 191.7 L337.5 191.5 L338.3 194.1 L340.3 194.3 L340.5 196.4 L341.4 197.9 L342.6 199.3 L344.5 200.1 L343.5 202.3 L343.7 204.4 L345.0 206.4 L345.4 208.5 L346.8 209.5 L347.4 211.4 L349.6 211.8 L350.4 213.5 L349.6 215.7 L349.7 217.8 L349.8 219.9 L351.2 221.9 L349.4 222.7 L347.1 222.8 L346.1 224.8 L344.5 226.1 L343.8 228.0 L342.4 229.6 L340.6 231.1 L341.2 233.6 L339.4 234.8 L339.1 236.6 L340.5 239.0 L338.7 240.3 L337.5 241.8 L337.0 243.6 L335.8 245.1 L335.3 247.0 L333.2 247.6 L333.1 250.3 L331.1 251.1 L330.3 252.9 L331.9 254.9 L331.5 256.7 L329.6 258.4 L330.3 260.3 L329.5 262.7 L327.8 264.5 L325.6 264.8 L324.4 266.7 L323.8 268.7 L322.3 269.7 L320.3 270.0 L319.4 271.6 L320.9 273.6 L319.0 275.0 L317.7 276.5 L318.6 278.4 L317.1 279.4 L315.5 280.2 L315.3 282.8 L312.8 282.5 L311.4 283.7 L310.2 285.1 L309.6 286.7 L309.7 288.5 L309.4 290.2 L308.6 291.8 L306.1 292.1 L306.8 295.5 L304.4 296.0 L306.2 297.5 L303.9 300.0 L306.6 301.4 L306.1 303.5 L306.8 305.4 L306.2 307.0 L304.2 308.3 L303.4 309.9 L304.4 311.8 L306.3 313.1 L305.6 315.1 L307.0 316.5 L307.1 318.3 L306.9 320.2 L308.5 321.5 L308.2 323.7 L309.8 325.0 L311.1 326.5 L311.1 328.6 L310.0 330.2 L310.2 332.6 L309.0 334.2 L306.9 335.3 L304.5 336.0 L305.1 339.1 L303.5 340.5 L301.9 341.9 L300.2 343.2 L298.9 344.7 L297.7 346.3 L297.7 348.6 L298.0 350.6 L296.0 351.8 L294.5 353.2 L295.2 355.3 L296.2 357.5 L294.1 359.1 L294.3 361.2 M350.4 213.5 L350.8 211.5 L353.6 211.7 L354.7 210.3 L355.4 208.5 L357.7 208.0 L359.8 209.0 L362.1 209.3 L363.8 210.0 L365.2 211.4 L367.1 211.8 L367.7 209.5 L365.3 207.5 L366.3 205.2 L367.1 203.1 L369.8 204.4 L370.7 202.5 L372.7 202.5 L373.8 201.0 L373.3 198.5 L375.3 197.1 L376.9 195.6 L377.1 193.4 L376.8 193.4 L378.2 192.0 L380.6 193.3 L382.3 192.6 L383.0 189.5 L385.2 190.1 L387.3 188.7 L389.3 190.2 L391.4 191.4 L393.5 190.1 L395.1 189.4 L396.7 188.6 L398.5 188.9 L399.9 187.4 L401.9 188.4 L403.9 188.5 L405.3 189.9 L406.9 190.9 L408.6 191.8 L409.1 189.9 L410.2 188.5 L411.3 187.1 L412.9 186.1 L413.7 184.4 L415.3 183.4 L417.3 182.4 L418.4 185.2 L420.2 184.8 L422.0 185.1 L423.8 184.6 L424.9 182.6 L427.6 183.9 L428.6 181.7 L430.6 180.8 L429.9 178.0 L431.4 176.8 L433.5 175.9 L434.0 174.0 L435.8 173.0 L437.6 172.0 L437.7 169.6 L439.9 169.0 L440.5 166.9 L442.4 165.6 L443.1 163.2 L445.0 162.0 L446.9 161.6 L449.0 161.9 L450.5 160.2 L452.3 161.3 L454.2 160.4 L456.0 160.5 L458.2 161.5 L460.5 161.9 L462.7 161.8 L463.7 163.3 L464.1 165.7 L466.0 166.0 L467.7 166.6 L469.5 166.9 L470.6 168.6 L472.4 169.2 L474.0 170.1 L476.0 170.0 L477.9 171.1 L480.3 170.9 L482.3 171.9 L484.2 171.4 L486.1 171.3 L488.0 171.0 L490.6 170.5 L492.3 168.6 L494.1 170.3 L496.0 172.0 L497.4 173.5 L498.4 175.3 L500.7 176.1 L500.7 178.6 L503.5 177.7 L504.7 175.8 L507.0 177.0 L509.0 177.2 L510.2 175.2 L510.7 173.0 L510.4 170.7 L511.0 168.5 L511.6 166.2 L513.8 165.2 L515.2 163.5 L517.5 164.0 L518.9 162.6 L520.3 161.1 L521.9 160.2 L523.9 159.4 L523.8 156.7 L525.7 155.8 L526.9 154.3 L529.3 154.5 L530.4 152.5 L531.8 151.2 L533.2 149.7 L535.3 149.3 L537.0 148.2 L539.4 147.9 L539.4 144.3 L541.9 144.3 L543.3 142.6 L544.0 140.6 L543.6 138.4 L545.4 137.2 L545.7 135.4 L546.6 133.8 L546.5 131.8 L547.3 130.1 L547.8 128.4 L547.6 126.3 L546.5 124.2 L548.9 122.1 L547.8 120.0 L549.2 118.9 L550.3 117.5 M101.7 274.3 L102.5 276.8 L104.2 278.2 L106.7 278.5 L108.5 277.2 L110.4 277.3 L112.2 279.5 L114.0 279.2 L115.9 278.5 L116.9 280.5 L119.1 281.5 L120.1 283.5 L121.7 284.2 L123.4 284.5 L125.0 284.7 L126.9 283.8 L128.5 284.9 L130.2 285.1 L131.6 286.4 L133.4 286.0 L135.4 287.5 L137.3 287.4 L139.3 286.2 L141.2 285.9 L143.2 285.3 L145.2 286.0 L147.4 286.9 L148.6 288.6 L148.5 291.1 L150.1 290.5 L151.7 289.7 L153.4 289.5 L155.2 289.4 L156.4 291.1 L158.5 290.8 L160.1 291.6 L162.2 291.3 L163.5 292.7 L166.1 292.8 L166.9 295.2 L167.8 293.6 L168.6 292.0 L170.7 291.5 L171.9 290.2 L173.1 292.2 L175.1 292.0 L177.3 291.2 L178.6 292.7 L179.7 294.6 L181.5 295.2 L183.3 295.9 L185.3 296.1 L187.6 296.0 L189.1 294.5 L190.3 292.7 L192.4 293.3 L194.1 291.7 L196.4 293.3 L198.3 293.0 L199.9 290.3 L202.0 291.1 L204.1 291.6 L206.1 291.4 L208.0 290.4 L210.0 290.5 L212.0 290.2 L213.7 291.2 L214.7 293.3 L217.1 293.2 L218.2 295.1 L220.4 295.2 L222.2 295.5 L223.3 297.7 L225.0 298.4 L227.1 297.9 L228.7 298.9 L230.4 299.4 L232.5 300.7 L234.6 300.1 L236.7 299.4 L238.8 299.4 M178.4 60.0 L179.6 62.4 L180.8 64.7 L182.6 66.7 L183.0 69.0 L183.5 71.2 L184.7 73.1 L186.0 75.1 L186.3 77.5 L188.8 78.9 L189.1 81.3 L190.1 83.4 L189.8 85.7 L190.7 87.7 L190.7 89.8 L191.8 91.8 L193.5 93.6 L193.9 95.9 L195.3 97.9 L196.0 100.2 L196.1 102.2 L196.2 104.2 L197.4 106.1 L197.2 108.1 L196.8 110.2 L197.5 112.4 L196.6 114.7 L197.7 116.9 L198.5 119.2 L200.2 121.1 L201.6 122.7 L201.4 125.0 L203.3 126.4 L203.5 128.6 L204.6 130.4 L206.6 131.5 L208.0 133.1 L208.5 135.3 L210.1 137.0 L212.7 137.0 L214.4 138.6 L216.7 139.4 L218.6 141.1 L216.5 142.6 L215.2 144.6 L214.4 147.0 L216.1 148.7 L216.5 151.4 L218.6 152.8 L220.2 154.5 L221.9 156.2 L223.9 157.3 L226.1 157.8" fill="none" stroke="#1c1c1c" stroke-width="0.7" stroke-linejoin="round"/>
<g clip-path="url(#warnclip)"><path d="M11.6 108.4 L54.2 108.4 L54.2 213.6 M54.2 135.3 L209.7 135.3 M11.6 213.6 L225.6 213.6 M32.3 213.6 L32.3 226.4 L101.5 226.4 L101.5 275.1 M31.4 226.4 L30.9 337.7 L11.6 337.7 M11.6 53.4 L136.1 53.4 L147.6 59.6 L163.8 57.4 L175.3 62.4 L178.4 60.0 M178.4 60.0 L182.6 66.7 L186.0 75.1 L190.1 83.4 L191.8 91.8 L196.0 100.2 L196.8 110.2 L197.7 116.9 L200.2 121.1 L203.5 128.6 L208.5 135.3 L214.4 138.6 L218.6 141.1 L214.4 147.0 L218.6 152.8 L221.9 156.2 L226.1 157.8 L225.6 226.4 M200.2 119.4 L292.1 118.9 L297.2 123.6 L292.6 118.9 L297.6 125.2 M317.7 67.0 L382.0 67.0 M225.6 226.4 L328.6 226.4 L331.1 230.2 L323.6 238.9 L337.8 238.9 M225.4 225.8 L228.8 245.1 L230.1 266.8 L228.4 298.6 M238.8 299.4 L238.8 338.7 L240.0 339.4 L244.5 345.0 L248.7 351.7 L250.4 358.4 L247.9 366.8 L245.4 373.4 L245.4 383.5 L242.3 388.5 L242.0 392.2 M238.9 313.4 L305.1 313.4 M294.3 361.2 L337.0 361.2 L335.3 368.7 L339.5 375.4 L339.4 375.1 L341.1 381.0 M373.8 264.2 L375.5 270.0 L372.1 293.4 L367.9 343.6 L368.8 377.1 L369.0 376.0 M330.3 264.2 L491.2 264.1 M344.5 226.1 L377.1 226.1 L378.0 222.7 L390.0 222.7 L477.8 223.8 L524.0 224.1 L562.7 225.2 L657.2 225.1 M376.8 193.4 L380.2 181.7 L385.2 173.4 L388.5 160.0 L387.1 172.1 L389.6 165.4 L386.2 158.7 L388.7 152.0 L389.1 91.0 M390.1 88.1 L451.4 88.1 L451.4 150.3 L451.4 160.3 M451.4 89.3 L482.9 88.5 M503.5 177.7 L501.8 183.6 L506.0 191.9 L511.8 197.8 L516.9 201.1 L510.2 205.3 L500.1 212.0 L481.7 224.5 M516.9 201.1 L521.9 207.0 L531.9 206.2 L540.3 204.5 L547.0 202.0 L555.3 201.1 L557.8 195.3 L563.7 185.3 L569.5 173.5 L575.4 176.9 L580.4 172.7 L585.4 166.0 L593.8 160.2 L600.4 150.1 L613.4 158.5 L614.2 153.8 M574.5 142.6 L574.5 156.0 L583.7 150.1 L592.1 146.8 L602.1 145.1 L607.2 142.6 L601.7 146.0 L605.9 143.4 L611.7 146.8 L614.2 153.5 L618.4 154.3 L620.9 158.5 L627.6 160.2 L628.6 162.8 L632.1 164.2 L630.7 167.8 L627.1 171.4 L624.3 175.6 M550.7 78.4 L550.7 142.8 L659.8 142.8 M568.4 74.3 L568.4 81.0 L668.9 81.0 L675.0 86.4 L679.0 94.5 L680.0 102.5 L684.2 99.3 L674.2 112.7 L674.4 118.4 L678.6 125.1 L684.5 130.9 L679.9 133.6 L674.2 137.8 L667.8 141.4 L665.6 144.3 M661.7 144.3 L662.8 140.7 L667.1 139.3 M661.7 143.1 L661.7 176.4 L675.9 176.4 M658.5 188.5 L668.5 187.1 M684.2 99.3 L701.8 107.6 M702.6 112.7 L707.6 106.8 L711.0 101.0 L712.6 80.9 L714.3 80.1 L718.5 60.8 M712.6 80.4 L761.1 80.9 L762.8 90.9 M751.6 80.9 L751.9 98.4 M718.5 60.8 L765.3 61.7 L770.3 60.0 L777.0 61.7 M433.8 264.3 L436.0 280.2 L440.1 305.3 L444.3 323.7 L448.5 332.0 L446.8 323.4 L448.2 328.8 L449.5 331.5 L446.2 334.1 L444.8 343.5 L446.8 348.9 L445.5 355.6 L448.2 364.9 L449.8 368.9 M390.4 377.6 L391.2 370.9 L386.2 365.1 L387.1 361.4 L445.5 361.2 M449.8 368.9 L480.0 370.2 L506.8 371.6 L511.4 372.9 L512.8 376.9 L515.5 374.9 L516.1 368.2 L519.5 366.2 L528.2 368.2 M491.2 264.1 L485.3 269.3 L493.6 276.8 L500.3 283.5 L508.7 295.2 L517.1 303.6 L518.8 305.4 L526.8 312.0 L530.8 320.1 L534.8 326.8 L536.9 334.8 L541.5 335.5 L545.6 332.1 M485.3 269.3 L488.6 266.0 L500.3 261.0 L508.7 259.3 L520.4 259.6 L520.0 259.3 L538.4 260.5 L545.1 265.1 L545.1 268.5 L570.2 269.3 L596.1 291.9 M524.0 224.1 L523.7 226.0 L521.0 230.0 L518.7 233.4 L513.7 235.0 L509.0 235.2 L503.7 238.4 L500.0 238.8 L497.0 241.7 L492.0 242.5 L488.6 245.9 L484.0 246.8 L480.3 250.1 L475.0 250.0 L471.9 251.8 L471.0 254.5 L469.4 255.9 L465.5 257.5 L464.4 260.1 L463.5 264.3" fill="none" stroke="#000" stroke-width="0.35"/>
<path d="M537.5 456.3 L542.9 450.2 L546.9 452.2 L548.9 456.9 L545.6 462.3 L540.9 460.3Z" fill="none" stroke="#000" stroke-width="0.8"/>
</g>
<path d="M155.2 571.1 L153.2 565.1 L151.0 553.4 L153.2 543.3 L153.2 531.6 L154.3 518.2 L157.7 504.9 L161.9 494.8 L166.1 486.5 L167.4 478.9 L166.9 473.1 L164.4 459.7 L161.4 455.4 L161.7 447.0 L165.1 439.5 L170.9 431.1 L178.5 425.3 L186.8 420.3 L196.9 416.1 L206.9 410.2 L215.3 404.4 L223.6 399.4 L232.0 395.2 L242.0 392.2 L252.0 391.0 L260.4 391.8 L268.8 394.3 L276.7 396.0 L281.7 392.7 L286.7 390.2 L291.7 391.8 L295.1 392.7 L298.4 396.9 L302.6 398.5 L306.0 403.5 L311.8 406.1 L315.2 406.9 L319.3 401.9 L323.5 401.9 L327.7 405.2 L331.9 402.7 L334.4 399.4 L336.9 398.5 L341.9 401.9 L346.9 404.4 L348.6 408.6 L351.9 406.1 L354.4 404.4 L350.3 401.0 L343.6 398.5 L339.4 395.2 L341.9 391.0 L346.1 386.0 L343.6 383.5 L339.4 387.7 L336.1 384.3 L336.9 381.8 L341.9 381.0 L346.1 377.6 L351.9 376.0 L357.0 375.1 L363.6 377.6 L368.7 377.6 L374.5 377.6 L377.0 369.3 L380.4 376.0 L383.7 378.5 L388.7 377.6 L393.7 376.0 L400.4 375.1 L405.6 376.2 L412.3 374.5 L417.8 375.1 L422.3 377.9 L427.9 380.1 L432.3 382.3 L435.7 384.6 L437.9 387.9 L438.5 391.8 L442.4 392.9 L446.8 394.0 L452.4 391.2 L458.0 387.9 L462.4 385.1 L469.1 383.4 L474.7 385.7 L479.2 389.6 L482.5 394.0 L485.8 397.9 L489.2 401.3 L492.5 404.6 L497.4 406.1 L500.1 412.1 L501.4 418.8 L500.1 425.5 L498.7 430.8 L496.7 436.2 L500.1 441.5 L502.1 446.9 L506.1 452.9 L510.1 457.6 L512.8 465.6 L516.1 467.0 L520.1 472.3 L522.8 478.1 L526.8 480.8 L532.8 483.4 L535.5 490.1 L537.5 495.5 L542.9 496.8 L549.6 495.5 L554.9 491.5 L558.9 483.4 L560.9 474.1 L561.9 463.4 L560.3 450.0 L558.9 452.2 L554.9 442.9 L551.6 433.5 L548.9 425.5 L549.6 420.1 L544.2 413.4 L540.2 405.4 L536.2 396.1 L532.8 388.0 L530.8 380.0 L530.8 376.3 L529.5 369.6 L529.5 364.2 L530.8 357.5 L533.5 350.8 L536.2 344.1 L540.2 338.8 L545.6 333.4 L550.9 329.4 L557.6 324.7 L565.6 320.1 L573.6 313.4 L581.7 306.7 L585.7 300.0 L590.2 295.2 L596.1 291.9 L603.6 291.1 L608.6 291.9 L611.1 285.2 L617.0 280.2 L616.5 279.5 L623.9 274.6 L628.7 271.8 L634.4 270.9 L640.2 272.2 L642.6 274.2 L644.2 272.2 L648.3 268.1 L652.4 264.0 L658.9 259.9 L665.8 257.5 L667.5 250.2 L666.2 244.4 L662.2 236.3 L658.9 228.1 L657.3 221.6 L656.4 221.3 L655.0 215.6 L650.7 214.2 L648.5 209.9 L647.1 205.6 L647.8 201.3 L649.2 197.0 L647.8 192.8 L645.7 188.5 L643.5 184.2 L642.8 179.9 L642.1 175.6 L642.8 171.4 L643.5 167.1 L642.8 162.8 L645.0 158.5 L647.8 154.3 L652.1 151.4 L656.4 148.5 L657.8 150.0 L654.2 152.8 L650.7 155.7 L649.2 159.2 L650.7 162.1 L649.2 166.4 L651.4 168.5 L650.7 172.8 L652.1 175.6 L654.2 178.5 L653.5 182.1 L656.4 181.4 L658.5 184.2 L657.8 188.5 L659.9 189.2 L661.4 191.3 L659.2 195.6 L656.4 199.9 L654.2 204.2 L655.0 207.7 L657.4 209.9 L661.4 204.2 L664.2 198.5 L667.1 192.8 L670.6 187.1 L673.5 181.4 L675.9 176.4 L676.3 171.4 L675.6 165.7 L672.8 160.7 L669.2 156.4 L666.4 152.8 L664.9 148.5 L665.6 144.3 L667.1 149.3 L668.8 152.8 L671.6 154.8 L674.9 156.7 L678.5 156.5 L679.9 159.2 L679.2 163.1 L683.5 160.7 L687.0 155.7 L691.3 151.4 L695.6 145.0 L698.5 138.6 L700.6 132.9 L701.6 128.6 L700.4 121.7 L695.1 121.0 L696.8 116.8 L702.6 112.7 L710.1 107.6 L720.2 103.5 L730.2 101.0 L740.2 100.1 L751.9 98.4 L760.3 95.9 L761.1 92.6 L763.6 87.6 L766.2 92.6 L770.3 93.4 L777.0 90.1 L779.5 91.8 L785.4 89.3 L792.1 88.4 L794.6 85.9 L793.7 80.9 L789.6 79.2 L792.9 83.4 L791.2 87.6 L785.4 88.4 L780.4 85.9 L778.7 80.9 L775.4 75.9 L770.3 72.5 L773.7 67.5 L778.7 63.3 L775.4 60.8 L778.7 52.5 L783.7 44.1 L787.1 37.4 L786.4 38.4 L789.0 33.1 L794.4 29.7 L799.7 26.4 L807.8 25.1 L813.1 22.4 L815.8 17.0 L821.1 14.4 L830.5 13.0 L830.5 10.4" fill="none" stroke="#111" stroke-width="0.65" stroke-linejoin="round"/>
<path d="M101.3 10V575 M216.6 10V575 M331.9 10V575 M447.2 10V575 M562.5 10V575 M677.8 10V575 M793.1 10V575 M10 500.7H890 M10 385.5H890 M10 264.3H890 M10 135.5H890" fill="none" stroke="#000" stroke-opacity="0.36" stroke-width="1"/>
<text x="113.0" y="98.7" font-size="10.7" font-weight="bold" text-anchor="middle" fill="#000" fill-opacity="0.47">NE</text>
<text x="143.0" y="179.2" font-size="10.7" font-weight="bold" text-anchor="middle" fill="#000" fill-opacity="0.47">KS</text>
<text x="158.5" y="253.3" font-size="10.7" font-weight="bold" text-anchor="middle" fill="#000" fill-opacity="0.47">OK</text>
<text x="103.3" y="341.6" font-size="10.7" font-weight="bold" text-anchor="middle" fill="#000" fill-opacity="0.47">TX</text>
<text x="257.9" y="85.5" font-size="10.7" font-weight="bold" text-anchor="middle" fill="#000" fill-opacity="0.47">IA</text>
<text x="274.0" y="179.1" font-size="10.7" font-weight="bold" text-anchor="middle" fill="#000" fill-opacity="0.47">MO</text>
<text x="274.3" y="268.7" font-size="10.7" font-weight="bold" text-anchor="middle" fill="#000" fill-opacity="0.47">AR</text>
<text x="273.9" y="360.7" font-size="10.7" font-weight="bold" text-anchor="middle" fill="#000" fill-opacity="0.47">LA</text>
<text x="343.3" y="329.3" font-size="10.7" font-weight="bold" text-anchor="middle" fill="#000" fill-opacity="0.47">MS</text>
<text x="398.9" y="331.8" font-size="10.7" font-weight="bold" text-anchor="middle" fill="#000" fill-opacity="0.47">AL</text>
<text x="350.3" y="134.4" font-size="10.7" font-weight="bold" text-anchor="middle" fill="#000" fill-opacity="0.47">IL</text>
<text x="424.3" y="139.8" font-size="10.7" font-weight="bold" text-anchor="middle" fill="#000" fill-opacity="0.47">IN</text>
<text x="505.2" y="134.2" font-size="10.7" font-weight="bold" text-anchor="middle" fill="#000" fill-opacity="0.47">OH</text>
<text x="459.0" y="207.2" font-size="10.7" font-weight="bold" text-anchor="middle" fill="#000" fill-opacity="0.47">KY</text>
<text x="412.8" y="243.1" font-size="10.7" font-weight="bold" text-anchor="middle" fill="#000" fill-opacity="0.47">TN</text>
<text x="493.6" y="329.8" font-size="10.7" font-weight="bold" text-anchor="middle" fill="#000" fill-opacity="0.47">GA</text>
<text x="515.5" y="423.8" font-size="10.7" font-weight="bold" text-anchor="middle" fill="#000" fill-opacity="0.47">FL</text>
<text x="550.9" y="293.1" font-size="10.7" font-weight="bold" text-anchor="middle" fill="#000" fill-opacity="0.47">SC</text>
<text x="573.8" y="255.8" font-size="10.7" font-weight="bold" text-anchor="middle" fill="#000" fill-opacity="0.47">NC</text>
<text x="595.1" y="202.3" font-size="10.7" font-weight="bold" text-anchor="middle" fill="#000" fill-opacity="0.47">VA</text>
<text x="544.1" y="178.9" font-size="10.7" font-weight="bold" text-anchor="middle" fill="#000" fill-opacity="0.47">WV</text>
<text x="617.7" y="117.9" font-size="10.7" font-weight="bold" text-anchor="middle" fill="#000" fill-opacity="0.47">PA</text>
<text x="640.0" y="160.1" font-size="10.7" font-weight="bold" text-anchor="middle" fill="#000" fill-opacity="0.47">MD</text>
<text x="666.4" y="165.4" font-size="10.7" font-weight="bold" text-anchor="middle" fill="#000" fill-opacity="0.47">DE</text>
<text x="688.5" y="147.3" font-size="10.7" font-weight="bold" text-anchor="middle" fill="#000" fill-opacity="0.47">NJ</text>
<text x="733.2" y="96.3" font-size="10.7" font-weight="bold" text-anchor="middle" fill="#000" fill-opacity="0.47">CT</text>
<text x="757.0" y="93.7" font-size="10.7" font-weight="bold" text-anchor="middle" fill="#000" fill-opacity="0.47">RI</text>
<text x="746.9" y="77.1" font-size="10.7" font-weight="bold" text-anchor="middle" fill="#000" fill-opacity="0.47">MA</text>
<text x="102.9" y="533.5" font-size="10.7" font-weight="bold" text-anchor="middle" fill="#000" fill-opacity="0.47">Mexico</text>
<text x="543.7" y="558.3" font-size="10.7" font-weight="bold" text-anchor="middle" fill="#000" fill-opacity="0.47">Cuba</text>
<text x="691.0" y="506.9" font-size="10.7" font-weight="bold" text-anchor="middle" fill="#000" fill-opacity="0.47">Bahamas</text>
<line x1="394.9" y1="204.5" x2="404.0" y2="118.0" stroke="#fff" stroke-width="4.4" stroke-linecap="round"/>
<line x1="394.9" y1="204.5" x2="404.0" y2="118.0" stroke="#000" stroke-width="1.6"/>
<line x1="417.5" y1="206.8" x2="449.8" y2="150.5" stroke="#fff" stroke-width="4.4" stroke-linecap="round"/>
<line x1="417.5" y1="206.8" x2="449.8" y2="150.5" stroke="#000" stroke-width="1.6"/>
<line x1="454.2" y1="239.6" x2="500.5" y2="211.5" stroke="#fff" stroke-width="4.4" stroke-linecap="round"/>
<line x1="454.2" y1="239.6" x2="500.5" y2="211.5" stroke="#000" stroke-width="1.6"/>
<line x1="400.6" y1="218.5" x2="391.3" y2="293.0" stroke="#fff" stroke-width="4.4" stroke-linecap="round"/>
<line x1="400.6" y1="218.5" x2="391.3" y2="293.0" stroke="#000" stroke-width="1.6"/>
<line x1="462.0" y1="434.6" x2="500.0" y2="432.4" stroke="#fff" stroke-width="4.4" stroke-linecap="round"/>
<line x1="462.0" y1="434.6" x2="500.0" y2="432.4" stroke="#000" stroke-width="1.6"/>
<circle cx="447.4" cy="244.1" r="7.8" fill="#fff" stroke="#000" stroke-width="1.3"/>
<circle cx="413.4" cy="213.5" r="7.8" fill="#fff" stroke="#000" stroke-width="1.3"/>
<circle cx="400.7" cy="211.2" r="7.8" fill="#fff" stroke="#000" stroke-width="1.3"/>
<circle cx="393.8" cy="211.4" r="7.8" fill="#fff" stroke="#000" stroke-width="1.3"/>
<text x="447.4" y="248.3" font-size="11.8" font-weight="bold" text-anchor="middle" fill="#000">S</text>
<text x="413.4" y="217.7" font-size="11.8" font-weight="bold" text-anchor="middle" fill="#000">D</text>
<text x="400.7" y="215.4" font-size="11.8" font-weight="bold" text-anchor="middle" fill="#000">D</text>
<text x="393.8" y="215.6" font-size="11.8" font-weight="bold" text-anchor="middle" fill="#000">D</text>
<circle cx="477.5" cy="349.7" r="8.6" fill="#000"/><text x="473.7" y="354.1" font-size="12.2" font-weight="bold" textLength="7.6" lengthAdjust="spacingAndGlyphs" fill="#fff">H</text>
<g stroke-linecap="round"><path d="M452.5 430.3L461.3 439.1M461.3 430.3L452.5 439.1" stroke="#fff" stroke-width="5.8"/><path d="M452.5 430.3L461.3 439.1M461.3 430.3L452.5 439.1" stroke="#000" stroke-width="3.5"/></g>
<text x="406.0" y="123.6" font-size="17.2" font-weight="bold" textLength="78.5" lengthAdjust="spacingAndGlyphs" fill="#000" stroke="#fff" stroke-width="3" stroke-linejoin="round" paint-order="stroke">2 AM Sun</text>
<text x="451.0" y="156.5" font-size="17.2" font-weight="bold" textLength="72.5" lengthAdjust="spacingAndGlyphs" fill="#000" stroke="#fff" stroke-width="3" stroke-linejoin="round" paint-order="stroke">2 AM Sat</text>
<text x="501.0" y="221.2" font-size="17.2" font-weight="bold" textLength="66.0" lengthAdjust="spacingAndGlyphs" fill="#000" stroke="#fff" stroke-width="3" stroke-linejoin="round" paint-order="stroke">2 PM Fri</text>
<text x="317.8" y="297.6" font-size="17.2" font-weight="bold" textLength="73.0" lengthAdjust="spacingAndGlyphs" fill="#000" stroke="#fff" stroke-width="3" stroke-linejoin="round" paint-order="stroke">2 PM Sat</text>
<text x="500.0" y="438.9" font-size="17.2" font-weight="bold" textLength="76.3" lengthAdjust="spacingAndGlyphs" fill="#000" stroke="#fff" stroke-width="3" stroke-linejoin="round" paint-order="stroke">5 PM Thu</text>
<text x="18.5" y="506.5" font-size="17" font-weight="bold" textLength="31.2" lengthAdjust="spacingAndGlyphs">25N</text>
<text x="18.5" y="391.3" font-size="17" font-weight="bold" textLength="31.2" lengthAdjust="spacingAndGlyphs">30N</text>
<text x="18.5" y="270.1" font-size="17" font-weight="bold" textLength="31.2" lengthAdjust="spacingAndGlyphs">35N</text>
<text x="18.5" y="141.3" font-size="17" font-weight="bold" textLength="31.2" lengthAdjust="spacingAndGlyphs">40N</text>
<text x="100.6" y="564.6" font-size="17" font-weight="bold" text-anchor="middle">100W</text>
<text x="215.9" y="564.6" font-size="17" font-weight="bold" text-anchor="middle">95W</text>
<text x="331.2" y="564.6" font-size="17" font-weight="bold" text-anchor="middle">90W</text>
<text x="446.5" y="564.6" font-size="17" font-weight="bold" text-anchor="middle">85W</text>
<text x="561.8" y="564.6" font-size="17" font-weight="bold" text-anchor="middle">80W</text>
<text x="677.1" y="564.6" font-size="17" font-weight="bold" text-anchor="middle">75W</text>
<text x="792.4" y="564.6" font-size="17" font-weight="bold" text-anchor="middle">70W</text>
<rect x="122.5" y="17" width="655.4" height="42.6" fill="#000"/>
<text x="128.6" y="34.5" font-size="16.55" font-weight="bold" fill="#fff" textLength="639.8" lengthAdjust="spacingAndGlyphs">Note: The cone contains the probable path of the storm center but does not show</text>
<text x="151.1" y="52.5" font-size="16.55" font-weight="bold" fill="#fff" textLength="586.5" lengthAdjust="spacingAndGlyphs">the size of the storm. Hazardous conditions can occur outside of the cone.</text>
<g transform="translate(50.3 51.5)">
<circle r="30.2" fill="#fff"/>
<clipPath id="nclip"><circle r="25.8"/></clipPath>
<g clip-path="url(#nclip)">
<rect x="-26" y="-26" width="52" height="52" fill="#0d94e2"/>
<path d="M-27 -20 L-27 -9 C-20 -7.4 -13.5 -1.8 -6.5 4 C-3.5 5.8 -1.5 5.8 0.5 5 C3 4.2 5 3.9 7.2 3.4 C11.8 1.8 15.6 -2.6 20 -8.4 C22 -10.4 24 -11.4 27 -12 L27 -20 Z" fill="#fff"/>
<path d="M-8 8 C-4.5 6.6 -1 5.4 3.5 3.9 L10.6 2.2 L10.4 3.3 L4 4.9 C0 6.2 -3 7.4 -7.4 8.9 Z" fill="#fff"/>
<path d="M-21.3 -17.2 L-30 -30 L30 -30 L21 -17.2 C18 -13.5 15.5 -10.5 13.6 -7.5 C11 -2.5 8 1.6 4.2 2.7 C2 3.4 -0.6 3.4 -2.4 2.4 C-6.5 -0.4 -10 -5 -13.4 -8.9 C-16 -11.8 -18.5 -14.5 -21.3 -17.2 Z" fill="#06067e"/>
</g>
<text x="-0.5" y="-10.2" font-size="9.2" font-weight="bold" text-anchor="middle" fill="#fff" textLength="20.6" lengthAdjust="spacingAndGlyphs">NOAA</text>
<path id="nt" d="M-25.58 8.31 A26.9 26.9 0 1 1 25.58 8.31" fill="none"/>
<text font-size="3.3" font-weight="bold" fill="#1a2a8c" textLength="100.4" lengthAdjust="spacingAndGlyphs"><textPath href="#nt">NATIONAL OCEANIC AND ATMOSPHERIC ADMINISTRATION</textPath></text>
<path id="nb" d="M-26.86 11.96 A29.4 29.4 0 0 0 26.86 11.96" fill="none"/>
<text font-size="3.3" font-weight="bold" fill="#1a2a8c" textLength="66.7" lengthAdjust="spacingAndGlyphs"><textPath href="#nb">U.S. DEPARTMENT OF COMMERCE</textPath></text>
</g>
<g transform="translate(847.2 49.9)">
<circle r="30.2" fill="#fff"/>
<clipPath id="wclip"><circle r="18.4"/></clipPath>
<g clip-path="url(#wclip)">
<rect x="-19" y="-19" width="38" height="38" fill="#fff"/>
<path d="M-19 -19H19V-2H-19Z" fill="#2aa9e0"/>
<path d="M0 -3V-19 M0 -3L7.5 -18 M0 -3L14 -13 M0 -3L-7.5 -18 M0 -3L-14 -13" stroke="#00009c" stroke-width="0.9" fill="none"/>
<path d="M-19 13 C-15 10.5 -11 14 -7 12.5 C-3 10.5 1 14 5 12.5 C9 10.5 13 14 19 11.5 V19H-19Z" fill="#2aa9e0"/>
</g>
<circle r="18.4" fill="none" stroke="#00009c" stroke-width="0.9"/>
<ellipse cx="-14.6" cy="1.8" rx="6.4" ry="5.6" fill="#00009c"/>
<ellipse cx="-9.0" cy="-3.5" rx="7.0" ry="5.0" fill="#00009c"/>
<ellipse cx="1.5" cy="-4.6" rx="11.0" ry="6.6" fill="#00009c"/>
<ellipse cx="15.2" cy="-2.1" rx="5.6" ry="5.0" fill="#00009c"/>
<ellipse cx="-4.0" cy="5.2" rx="12.4" ry="4.8" fill="#00009c"/>
<ellipse cx="10.5" cy="4.1" rx="5.6" ry="5.0" fill="#00009c"/>
<ellipse cx="-13.0" cy="5.0" rx="6.0" ry="4.5" fill="#00009c"/>
<ellipse cx="6.0" cy="0.0" rx="10.0" ry="6.0" fill="#00009c"/>
<path d="M-15.22 -15.89 L-8.09 -15.22 L-1.90 -8.37 L-4.57 -7.71 L4.38 -0.86 L1.52 0.10 L14.84 15.51 L-3.33 2.19 L-0.38 1.43 L-9.04 -5.90 L-6.37 -6.57Z" fill="#fff" stroke="#00009c" stroke-width="0.7" stroke-linejoin="miter"/>
<path id="wt" d="M-11.23 18.69 A21.8 21.8 0 1 1 11.23 18.69" fill="none"/>
<text font-size="8.6" font-weight="bold" fill="#f01820" stroke="#f01820" stroke-width="0.3" textLength="113.4" lengthAdjust="spacingAndGlyphs"><textPath href="#wt">NATIONAL WEATHER SERVICE</textPath></text>
<path d="M-0.20 23.20 L0.42 24.95 L2.27 25.00 L0.80 26.12 L1.33 27.90 L-0.20 26.85 L-1.73 27.90 L-1.20 26.12 L-2.67 25.00 L-0.82 24.95Z" fill="#f01820"/>
<circle cx="-7.4" cy="25" r="1.1" fill="#1c1cd0"/><circle cx="7.3" cy="25" r="1.1" fill="#1c1cd0"/>
</g>
</g>
<rect x="13.1" y="12" width="872.3" height="711.6" fill="none" stroke="#000" stroke-width="3.5"/>
<rect x="13" y="570.6" width="872" height="3.6" fill="#000"/>
<rect x="13" y="665.2" width="872" height="3.5" fill="#000"/>
<text x="20.0" y="598.0" font-size="20.7" font-weight="bold" textLength="169.6" lengthAdjust="spacingAndGlyphs">Hurricane Helene</text>
<text x="20.0" y="613.8" font-size="15.65" textLength="211.8" lengthAdjust="spacingAndGlyphs">Thursday September 26, 2024</text>
<text x="20.0" y="633.1" font-size="15.65" textLength="157.5" lengthAdjust="spacingAndGlyphs">5 PM EDT Advisory 14</text>
<text x="20.0" y="653.2" font-size="15.65" textLength="221.5" lengthAdjust="spacingAndGlyphs">NWS National Hurricane Center</text>
<text x="315.0" y="597.0" font-size="20.7" font-weight="bold" textLength="202.4" lengthAdjust="spacingAndGlyphs">Current information:</text>
<path d="M526 585.3L536.8 596.1M536.8 585.3L526 596.1" stroke="#000" stroke-width="3"/>
<text x="315.0" y="615.4" font-size="15.65" textLength="209.0" lengthAdjust="spacingAndGlyphs">Center location 27.9 N 84.6 W</text>
<text x="315.0" y="633.1" font-size="15.65" textLength="240.9" lengthAdjust="spacingAndGlyphs">Maximum sustained wind 125 mph</text>
<text x="315.0" y="652.2" font-size="15.65" textLength="184.7" lengthAdjust="spacingAndGlyphs">Movement NNE at 23 mph</text>
<text x="581.5" y="595.5" font-size="20.7" font-weight="bold" textLength="191.6" lengthAdjust="spacingAndGlyphs">Forecast positions:</text>
<circle cx="591.5" cy="610.6" r="7.8" fill="#000"/>
<text x="601.9" y="615.3" font-size="15.65" textLength="116.0" lengthAdjust="spacingAndGlyphs">Tropical Cyclone</text>
<circle cx="740.9" cy="610.6" r="6.1" fill="#fff" stroke="#000" stroke-width="2.4"/>
<text x="753.8" y="615.3" font-size="15.65" textLength="120.9" lengthAdjust="spacingAndGlyphs">Post/Potential TC</text>
<text x="581.5" y="633.9" font-size="15.65" textLength="118.4" lengthAdjust="spacingAndGlyphs">Sustained winds:</text>
<text x="735.8" y="633.9" font-size="15.65" textLength="79.0" lengthAdjust="spacingAndGlyphs">D &lt; 39 mph</text>
<text x="581.5" y="653.0" font-size="15.65" textLength="88.6" lengthAdjust="spacingAndGlyphs">S 39-73 mph</text>
<text x="680.9" y="653.0" font-size="15.65" textLength="96.9" lengthAdjust="spacingAndGlyphs">H 74-110 mph</text>
<text x="789.3" y="653.0" font-size="15.65" textLength="90.1" lengthAdjust="spacingAndGlyphs">M &gt; 110 mph</text>
<text x="20.0" y="690.1" font-size="18.9" font-weight="bold" textLength="180.7" lengthAdjust="spacingAndGlyphs">Potential track area:</text>
<path d="M42.4 695.05 L147.5 704.6 A2.3 2.3 0 0 1 147.5 709.2 L42.4 718.75 A11.9 11.9 0 1 1 42.4 695.05 Z" fill="#fff" stroke="#1a1a1a" stroke-width="1.25"/>
<text x="159.5" y="713.4" font-size="13.7" textLength="47.8" lengthAdjust="spacingAndGlyphs">Day 1-5</text>
<text x="243.4" y="690.1" font-size="18.9" font-weight="bold" textLength="83.6" lengthAdjust="spacingAndGlyphs">Watches:</text>
<text x="436.4" y="688.4" font-size="18.9" font-weight="bold" textLength="91.3" lengthAdjust="spacingAndGlyphs">Warnings:</text>
<text x="631.7" y="690.5" font-size="18.9" font-weight="bold" textLength="250.2" lengthAdjust="spacingAndGlyphs">Current wind field estimate:</text>
<rect x="243.2" y="701.5" width="24.6" height="15.6" fill="#ffc0cb"/>
<text x="270.1" y="714.0" font-size="13.7" textLength="59.6" lengthAdjust="spacingAndGlyphs">Hurricane</text>
<rect x="335.6" y="701.5" width="24.6" height="15.6" fill="#ffff00"/>
<text x="363.8" y="714.0" font-size="13.7" textLength="56.2" lengthAdjust="spacingAndGlyphs">Trop Stm</text>
<rect x="436.4" y="701.5" width="24.6" height="15.6" fill="#ff0000"/>
<text x="463.1" y="714.0" font-size="13.7" textLength="58.9" lengthAdjust="spacingAndGlyphs">Hurricane</text>
<rect x="528.4" y="701.5" width="24.6" height="15.6" fill="#0000ff"/>
<text x="556.6" y="714.0" font-size="13.7" textLength="56.9" lengthAdjust="spacingAndGlyphs">Trop Stm</text>
<rect x="631.4" y="701.5" width="24.6" height="15.6" fill="#9e4a4a"/>
<text x="658.8" y="714.0" font-size="13.7" textLength="59.1" lengthAdjust="spacingAndGlyphs">Hurricane</text>
<rect x="724.0" y="701.5" width="24.6" height="15.6" fill="#ffbb50"/>
<text x="752.5" y="714.0" font-size="13.7" textLength="56.0" lengthAdjust="spacingAndGlyphs">Trop Stm</text>
</g>
</svg></body></html>
